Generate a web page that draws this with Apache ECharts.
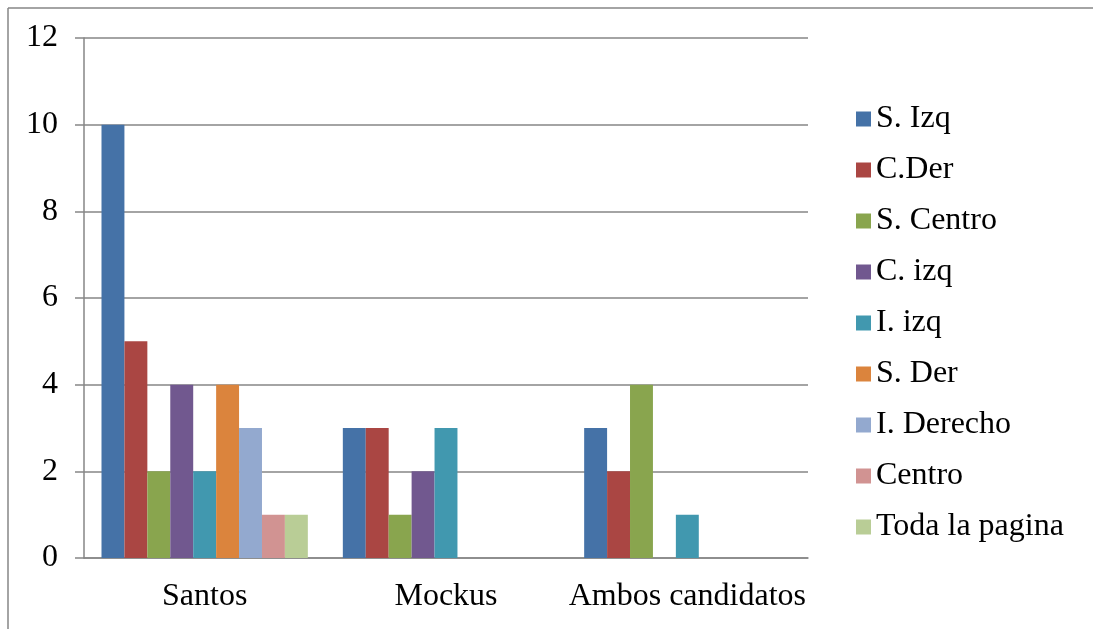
<!DOCTYPE html>
<html>
<head>
<meta charset="utf-8">
<script src="https://cdn.jsdelivr.net/npm/echarts@6/dist/echarts.min.js"></script>
<style>
html,body{margin:0;padding:0;background:#fff;}
#c{width:1093px;height:629px;}
</style>
</head>
<body>
<div id="c"></div>
<script>
var categories = ['Santos', 'Mockus', 'Ambos candidatos'];
var seriesNames = ['S. Izq', 'C.Der', 'S. Centro', 'C. izq', 'I. izq', 'S. Der', 'I. Derecho', 'Centro', 'Toda la pagina'];
var sIzq = [10, 3, 3];
var cDer = [5, 3, 2];
var sCentro = [2, 1, 4];
var cIzq = [4, 2, null];
var iIzq = [2, 3, 1];
var sDer = [4, null, null];
var iDerecho = [3, null, null];
var centro = [1, null, null];
var todaLaPagina = [1, null, null];
var yTicks = [0, 2, 4, 6, 8, 10, 12];

var seriesData = [sIzq, cDer, sCentro, cIzq, iIzq, sDer, iDerecho, centro, todaLaPagina];
var colors = ['#4572A7', '#AA4643', '#89A54E', '#71588F', '#4198AF', '#DB843D', '#93A9CF', '#D19392', '#B9CD96'];
var font = '"Liberation Serif", serif';
var fs = 32;

var chart = echarts.init(document.getElementById('c'), null, {renderer: 'canvas'});
chart.setOption({
  animation: false,
  backgroundColor: '#fff',
  color: colors,
  grid: {left: 84, right: 1093 - 808, top: 38, bottom: 629 - 558, containLabel: false},
  legend: {
    orient: 'vertical',
    left: 851,
    top: 98,
    itemWidth: 15,
    itemHeight: 15,
    itemGap: 19,
    icon: 'rect',
    data: seriesNames,
    textStyle: {fontFamily: font, fontSize: fs, color: '#000', lineHeight: 32}
  },
  xAxis: {
    type: 'category',
    data: categories,
    axisLine: {show: true, lineStyle: {color: '#868686', width: 1.5}},
    axisTick: {show: false},
    axisLabel: {fontFamily: font, fontSize: fs, color: '#000', margin: 23, interval: 0},
    splitLine: {show: false}
  },
  yAxis: {
    type: 'value',
    min: yTicks[0],
    max: yTicks[yTicks.length - 1],
    interval: 2,
    axisLine: {show: true, lineStyle: {color: '#868686', width: 1.5}},
    axisTick: {show: true, inside: false, length: 9, lineStyle: {color: '#868686', width: 1.5}},
    axisLabel: {fontFamily: font, fontSize: fs, color: '#000', margin: 26},
    splitLine: {show: true, lineStyle: {color: '#868686', width: 1.5}}
  },
  series: seriesData.map(function (d, i) {
    return {
      name: seriesNames[i],
      type: 'bar',
      data: d,
      barGap: '0%',
      barCategoryGap: '14.5%',
      itemStyle: {color: colors[i]}
    };
  }),
  graphic: [
    {type: 'line', shape: {x1: 8, y1: 8, x2: 1093, y2: 8}, style: {stroke: '#868686', lineWidth: 1.5}, silent: true},
    {type: 'line', shape: {x1: 8, y1: 8, x2: 8, y2: 629}, style: {stroke: '#868686', lineWidth: 1.5}, silent: true}
  ]
});
</script>
</body>
</html>
